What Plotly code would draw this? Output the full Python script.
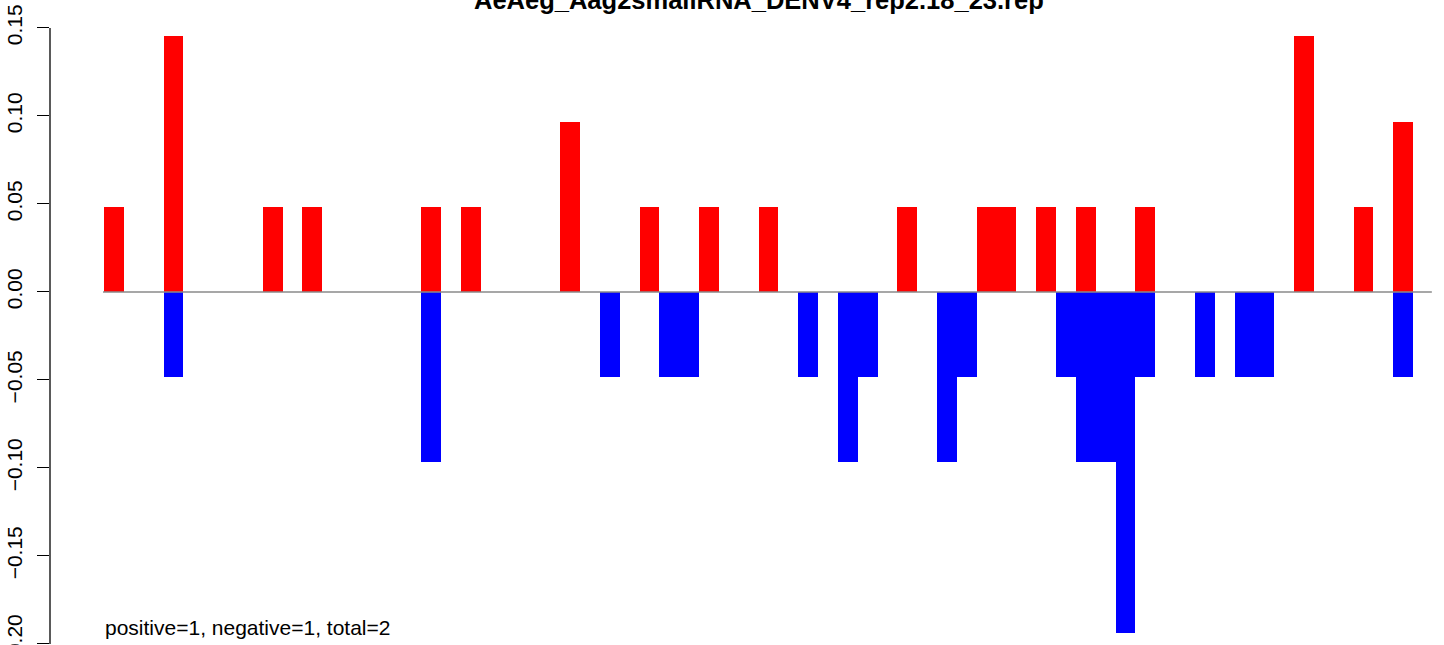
import plotly.graph_objects as go

# Read-count profile per bin: positive strand above zero, negative strand below
bins = list(range(66))

positive = [
    0.0484, 0, 0, 0.1452, 0, 0, 0, 0, 0.0484, 0,
    0.0484, 0, 0, 0, 0, 0, 0.0484, 0, 0.0484, 0,
    0, 0, 0, 0.0968, 0, 0, 0, 0.0484, 0, 0,
    0.0484, 0, 0, 0.0484, 0, 0, 0, 0, 0, 0,
    0.0484, 0, 0, 0, 0.0484, 0.0484, 0, 0.0484, 0, 0.0484,
    0, 0, 0.0484, 0, 0, 0, 0, 0, 0, 0,
    0.1452, 0, 0, 0.0484, 0, 0.0968,
]

negative = [
    0, 0, 0, -0.0484, 0, 0, 0, 0, 0, 0,
    0, 0, 0, 0, 0, 0, -0.0968, 0, 0, 0,
    0, 0, 0, 0, 0, -0.0484, 0, 0, -0.0484, -0.0484,
    0, 0, 0, 0, 0, -0.0484, 0, -0.0968, -0.0484, 0,
    0, 0, -0.0968, -0.0484, 0, 0, 0, 0, -0.0484, -0.0968,
    -0.0968, -0.1935, -0.0484, 0, 0, -0.0484, 0, -0.0484, -0.0484, 0,
    0, 0, 0, 0, 0, -0.0484,
]

y_ticks = [-0.20, -0.15, -0.10, -0.05, 0.00, 0.05, 0.10, 0.15]
y_tick_text = ["\u22120.20", "\u22120.15", "\u22120.10", "\u22120.05", "0.00", "0.05", "0.10", "0.15"]

title_text = "AeAeg_Aag2smallRNA_DENV4_rep2.18_23.rep"
summary_text = "positive=1, negative=1, total=2"

FONT = "Liberation Sans, Arial, Helvetica, sans-serif"

fig = go.Figure()
fig.add_trace(go.Bar(x=bins, y=positive, marker=dict(color="#ff0000", line=dict(width=0)),
                     width=1.0, showlegend=False, hoverinfo="skip"))
fig.add_trace(go.Bar(x=bins, y=negative, marker=dict(color="#0000ff", line=dict(width=0)),
                     width=1.0, showlegend=False, hoverinfo="skip"))

# zero reference line across the bins
fig.add_shape(type="line", xref="x", yref="y", x0=-0.55, x1=66.45, y0=0, y1=0,
              line=dict(color="#8a8a8a", width=1.6), layer="above")

# y axis spine running only between the outer ticks
fig.add_shape(type="line", xref="paper", yref="y", x0=0, x1=0, y0=y_ticks[0], y1=y_ticks[-1],
              line=dict(color="black", width=1.3), layer="above")

fig.add_annotation(text="<b>" + title_text + "</b>", xref="x", yref="paper",
                   x=32.5, y=1, xanchor="center", yanchor="bottom", yshift=-15,
                   showarrow=False, borderpad=0,
                   font=dict(family=FONT, size=25.5, color="black"))

fig.add_annotation(text=summary_text, xref="x", yref="y",
                   x=-0.5, y=-0.1904, xanchor="left", yanchor="middle",
                   showarrow=False, borderpad=0,
                   font=dict(family=FONT, size=21, color="black"))

fig.update_layout(
    width=1444, height=645,
    margin=dict(l=50, r=0, t=0, b=0, autoexpand=False),
    paper_bgcolor="white", plot_bgcolor="white",
    barmode="overlay", bargap=0,
    font=dict(family=FONT, size=21, color="black"),
    xaxis=dict(visible=False, range=[-3.2227, 67.063], fixedrange=True),
    yaxis=dict(range=[-0.2006, 0.1659], tickmode="array", tickvals=y_ticks,
               ticktext=y_tick_text, tickangle=-90, ticks="outside", ticklen=12,
               tickwidth=1.2, tickcolor="black", showgrid=False, zeroline=False,
               showline=False, tickfont=dict(family=FONT, size=21, color="black"),
               ticklabeloverflow="allow", ticklabelstandoff=7, automargin=False,
               fixedrange=True),
)

fig.write_html("out.html")
